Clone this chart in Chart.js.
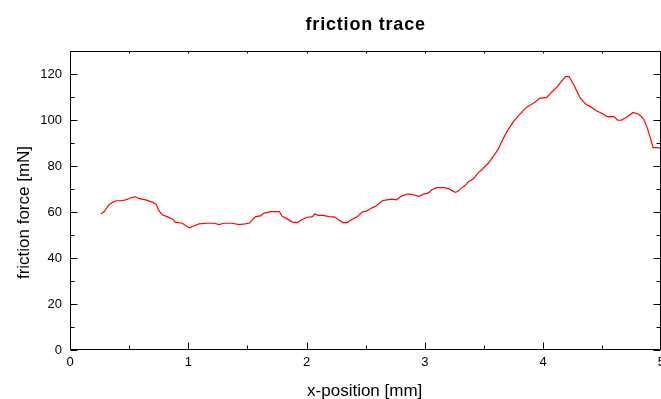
<!DOCTYPE html>
<html lang="en">
<head>
<meta charset="UTF-8">
<title>friction trace</title>
<script src="https://cdn.jsdelivr.net/npm/chart.js@4.4.0/dist/chart.umd.min.js"></script>
<style>
  html, body { margin: 0; padding: 0; background: #fff; overflow: hidden; }
  #wrap { width: 670px; height: 399px; }
</style>
</head>
<body>
<div id="wrap"><canvas id="trace" width="670" height="399"></canvas></div>
<script>
// measured trace: position along the track [mm] and friction force [mN]
const xPos = [
  0.26, 0.29, 0.33, 0.36, 0.39, 0.43, 0.47, 0.51, 0.55, 0.58,
  0.64, 0.70, 0.73, 0.75, 0.78, 0.82, 0.87, 0.89, 0.95, 0.98,
  1.01, 1.05, 1.09, 1.16, 1.22, 1.26, 1.30, 1.37, 1.43, 1.48,
  1.52, 1.54, 1.57, 1.61, 1.64, 1.70, 1.77, 1.79, 1.84, 1.88,
  1.92, 1.96, 2.00, 2.05, 2.07, 2.10, 2.14, 2.19, 2.24, 2.27,
  2.31, 2.34, 2.38, 2.43, 2.47, 2.51, 2.55, 2.59, 2.64, 2.68,
  2.72, 2.76, 2.80, 2.85, 2.88, 2.90, 2.95, 2.99, 3.03, 3.06,
  3.10, 3.16, 3.20, 3.23, 3.26, 3.28, 3.31, 3.34, 3.37, 3.41,
  3.45, 3.49, 3.54, 3.58, 3.62, 3.66, 3.70, 3.75, 3.79, 3.83,
  3.86, 3.90, 3.93, 3.97, 4.03, 4.07, 4.12, 4.16, 4.19, 4.22,
  4.24, 4.27, 4.31, 4.36, 4.41, 4.45, 4.50, 4.54, 4.60, 4.63,
  4.66, 4.71, 4.76, 4.81, 4.85, 4.88, 4.91, 4.93, 4.96, 5.00
];
const force = [
  59.1, 60.2, 63.2, 64.2, 64.9, 64.9, 65.3, 66.1, 66.7, 65.9,
  65.3, 64.2, 63.2, 60.7, 58.8, 58.0, 56.9, 55.6, 55.1, 54.0,
  53.1, 54.0, 54.8, 55.1, 55.1, 54.5, 55.1, 55.1, 54.5, 54.8,
  55.2, 56.6, 58.0, 58.3, 59.5, 60.2, 60.2, 58.3, 56.9, 55.6,
  55.4, 56.6, 57.6, 58.0, 59.2, 58.5, 58.5, 58.0, 57.8, 56.6,
  55.4, 55.4, 56.6, 58.0, 60.0, 60.5, 61.7, 62.7, 64.9, 65.3,
  65.6, 65.3, 66.8, 67.8, 67.8, 67.5, 66.8, 67.8, 68.3, 69.7,
  70.6, 70.6, 70.2, 69.3, 68.5, 69.0, 70.5, 71.5, 73.2, 74.4,
  77.0, 78.8, 81.4, 84.3, 87.2, 91.6, 95.5, 99.3, 101.8, 104.0,
  105.6, 106.7, 107.7, 109.4, 109.8, 112.0, 114.5, 117.1, 119.0, 118.9,
  117.1, 114.2, 109.8, 106.9, 105.5, 104.0, 102.8, 101.5, 101.5, 99.9,
  99.9, 101.3, 103.3, 102.5, 100.4, 96.7, 91.6, 88.0, 88.0, 87.8
];
const xTickLabels = [0, 1, 2, 3, 4, 5];
const yTickLabels = [0, 20, 40, 60, 80, 100, 120];

const FONT = '"Liberation Sans", Arial, sans-serif';

// box frame, inward tick marks and the three titles
const framePlugin = {
  id: 'frame',
  afterDraw(chart) {
    const { ctx, chartArea: a, scales: { x, y } } = chart;
    const L = Math.round(a.left) + 0.5, R = Math.round(a.right) - 0.5;
    const T = Math.round(a.top) + 0.5, B = Math.round(a.bottom) - 0.5;
    ctx.save();
    ctx.strokeStyle = '#000';
    ctx.lineWidth = 1;
    ctx.beginPath();
    ctx.moveTo(L, T); ctx.lineTo(R, T); ctx.lineTo(R, B); ctx.lineTo(L, B); ctx.closePath();
    x.ticks.forEach(t => {
      const px = Math.round(x.getPixelForValue(t.value)) + 0.5;
      const len = xTickLabels.includes(t.value) ? 7 : 4;
      ctx.moveTo(px, B); ctx.lineTo(px, B - len);
      ctx.moveTo(px, T); ctx.lineTo(px, T + 2);
    });
    y.ticks.forEach(t => {
      const py = Math.round(y.getPixelForValue(t.value)) + 0.5;
      const len = yTickLabels.includes(t.value) ? 7 : 4;
      ctx.moveTo(L, py); ctx.lineTo(L + len, py);
      ctx.moveTo(R, py); ctx.lineTo(R - len, py);
    });
    ctx.stroke();

    const cx = (a.left + a.right) / 2;
    ctx.fillStyle = '#000';
    ctx.textAlign = 'center';
    ctx.textBaseline = 'alphabetic';
    ctx.font = 'bold 18px ' + FONT;
    ctx.letterSpacing = '0.8px';
    ctx.fillText('friction trace', cx, 30);
    ctx.letterSpacing = '0px';
    ctx.font = '17px ' + FONT;
    ctx.fillText('x-position [mm]', cx - 1, 396);
    ctx.translate(28.5, (a.top + a.bottom) / 2 + 12);
    ctx.rotate(-Math.PI / 2);
    ctx.fillText('friction force [mN]', 0, 0);
    ctx.restore();
  }
};

new Chart(document.getElementById('trace'), {
  type: 'line',
  data: {
    datasets: [{
      data: xPos.map((v, i) => ({ x: v, y: force[i] })),
      borderColor: '#ff0000',
      borderWidth: 1.2,
      pointRadius: 0,
      tension: 0,
      fill: false
    }]
  },
  options: {
    responsive: false,
    animation: false,
    devicePixelRatio: 1,
    layout: { padding: { top: 51, right: 7, left: 0, bottom: 0 } },
    plugins: { legend: { display: false }, tooltip: { enabled: false }, title: { display: false } },
    scales: {
      x: {
        type: 'linear',
        min: 0, max: 5,
        grid: { display: false, drawTicks: false },
        border: { display: false },
        ticks: {
          stepSize: 0.5,
          padding: 5,
          color: '#000',
          font: { family: FONT, size: 13 },
          maxRotation: 0,
          autoSkip: false,
          callback: v => xTickLabels.includes(v) ? String(v) : ''
        },
        afterFit: s => { s.height = 49; }
      },
      y: {
        min: 0, max: 130,
        grid: { display: false, drawTicks: false },
        border: { display: false },
        ticks: {
          stepSize: 10,
          includeBounds: false,
          padding: 8,
          color: '#000',
          font: { family: FONT, size: 13 },
          autoSkip: false,
          callback: v => yTickLabels.includes(v) ? String(v) : ''
        },
        afterFit: s => { s.width = 70; }
      }
    }
  },
  plugins: [framePlugin]
});
</script>
</body>
</html>
